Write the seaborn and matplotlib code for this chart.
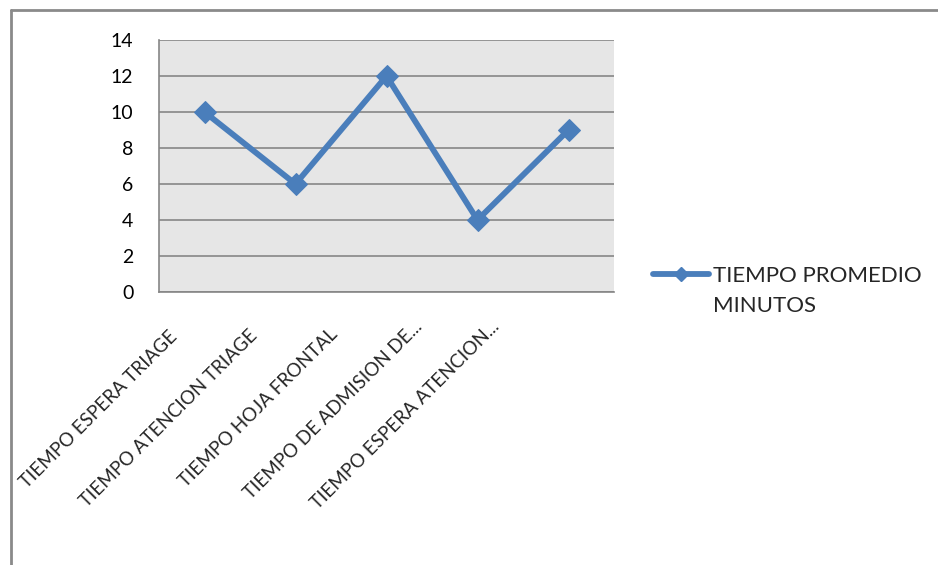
import matplotlib
matplotlib.use("Agg")
import matplotlib.pyplot as plt
import matplotlib.transforms as mtransforms
from matplotlib.lines import Line2D
import seaborn as sns
import pandas as pd

etapas = [
    "TIEMPO ESPERA TRIAGE",
    "TIEMPO ATENCION TRIAGE",
    "TIEMPO HOJA FRONTAL",
    "TIEMPO DE ADMISION DE...",
    "TIEMPO ESPERA ATENCION...",
]
minutos = [10, 6, 12, 4, 9]
serie = ["TIEMPO PROMEDIO", "MINUTOS"]
y_ticks = [0, 2, 4, 6, 8, 10, 12, 14]

df = pd.DataFrame({"etapa": etapas, "minutos": minutos})

sns.set_style("white")
plt.rcParams["font.family"] = ["Lato", "DejaVu Sans"]

fig = plt.figure(figsize=(9.38, 5.65), dpi=100)
ax = fig.add_axes([159 / 938, 1 - 292 / 565, 455 / 938, 252 / 565])
ax.set_facecolor("#E6E6E6")

blue = "#4A7EBB"
grid_gray = "#868686"

sns.lineplot(
    data=df,
    x="etapa",
    y="minutos",
    sort=False,
    color=blue,
    linewidth=4.2,
    marker="D",
    markersize=11.5,
    markeredgecolor=blue,
    legend=False,
    ax=ax,
)

ax.set_xlim(-0.5, len(etapas) - 0.5)
ax.set_ylim(0, 14)
ax.set_yticks(y_ticks)
ax.set_xlabel("")
ax.set_ylabel("")

ax.yaxis.grid(True, color=grid_gray, linewidth=1.2)
ax.set_axisbelow(True)
for side in ["top", "right"]:
    ax.spines[side].set_visible(False)
for side in ["left", "bottom"]:
    ax.spines[side].set_color(grid_gray)
    ax.spines[side].set_linewidth(1.2)

ax.tick_params(axis="y", which="major", length=6.5, width=1.2, color=grid_gray,
               pad=12, labelsize=14, labelcolor="black")
ax.set_xticks(range(len(etapas)))
ax.set_xticks([i - 0.5 for i in range(len(etapas) + 1)], minor=True)
ax.tick_params(axis="x", which="minor", length=6.5, width=1.2, color=grid_gray)
ax.tick_params(axis="x", which="major", length=0, pad=0, labelsize=13.5)
ax.set_xticklabels(etapas, rotation=45, ha="right", va="center",
                   rotation_mode="anchor")

# Excel-style placement of the rotated category labels
shift_x = [-30, -41, -52, -58, -72]
shift_y = [-42, -41, -39, -32, -32]
for lbl, dx, dy in zip(ax.get_xticklabels(), shift_x, shift_y):
    off = mtransforms.ScaledTranslation(dx / 100, dy / 100, fig.dpi_scale_trans)
    lbl.set_transform(lbl.get_transform() + off)

handle = Line2D([], [], color=blue, linewidth=4.2, marker="D", markersize=7)
leg = ax.legend(
    [handle], [serie[0]],
    loc="center left",
    bbox_to_anchor=(653 / 938, 1 - 276 / 565),
    bbox_transform=fig.transFigure,
    borderaxespad=0,
    borderpad=0,
    frameon=False,
    fontsize=16,
    handlelength=2.5,
    handletextpad=0.22,
)
fig.text(713 / 938, 1 - 306 / 565, serie[1], fontsize=16, va="center", ha="left")

# chart border
fig.add_artist(Line2D([11 / 938, 11 / 938], [0, 1 - 10 / 565],
                      transform=fig.transFigure, color="#8A8A8A", linewidth=2))
fig.add_artist(Line2D([11 / 938, 1], [1 - 10 / 565, 1 - 10 / 565],
                      transform=fig.transFigure, color="#8A8A8A", linewidth=2))

fig.savefig("out.png", dpi=100)
plt.close(fig)
